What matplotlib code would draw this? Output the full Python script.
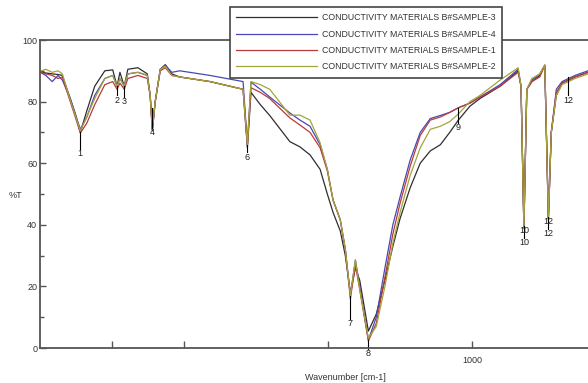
import matplotlib.pyplot as plt
from matplotlib.ticker import FixedLocator, NullFormatter

plt.rcParams['font.family'] = ['Liberation Sans', 'DejaVu Sans']

# wavenumber grid shared by all four spectra
wavenumber = [400, 408, 417, 425, 431, 442, 449, 456, 465, 476, 490, 501, 507, 511, 517,
              522, 536, 549, 553, 556, 560, 567, 574, 583, 594, 636, 682, 688, 693, 706,
              719, 747, 761, 775, 789, 799, 807, 817, 824, 831, 838, 844, 856, 867, 879,
              890, 900, 914, 928, 942, 956, 969, 981, 997, 1011, 1039, 1064, 1068, 1072,
              1076, 1083, 1094, 1101, 1106, 1110, 1117, 1125, 1143, 1161]

t_sample3 = [89.6, 89.3, 89.0, 88.8, 88.5, 81.0, 76.0, 70.0, 77.0, 85.0, 90.0, 90.3, 85.0, 89.5, 85.0,
             90.5, 91.0, 89.0, 82.0, 70.5, 80.0, 90.5, 92.0, 89.0, 88.0, 86.5, 84.0, 65.0, 83.0, 79.0,
             75.5, 67.0, 65.3, 62.7, 58.0, 50.0, 44.0, 38.0, 30.0, 18.0, 26.0, 22.0, 5.5, 11.0, 22.0,
             33.0, 42.0, 52.0, 60.0, 64.0, 66.0, 70.0, 74.0, 78.5, 81.0, 85.0, 90.0, 85.0, 39.0,
             84.0, 86.5, 88.5, 91.8, 42.0, 70.0, 82.0, 86.0, 88.0, 89.5]
t_sample4 = [89.6, 88.5, 86.5, 88.5, 87.0, 81.0, 76.0, 71.0, 75.0, 82.0, 87.5, 88.5, 85.0, 87.5, 85.0,
             89.0, 89.5, 88.5, 82.0, 71.0, 80.0, 90.5, 91.8, 89.5, 90.0, 88.5, 86.5, 66.0, 86.3, 84.0,
             81.5, 76.3, 74.0, 72.0, 66.0, 58.0, 48.0, 41.6, 32.0, 17.0, 28.6, 20.0, 2.6, 10.0, 26.0,
             40.0, 49.0, 61.0, 70.0, 74.5, 75.5, 76.5, 78.0, 79.5, 81.5, 85.5, 90.5, 85.0, 39.0,
             84.0, 87.0, 89.0, 91.8, 42.0, 70.0, 84.0, 86.5, 88.5, 90.0]
t_sample1 = [89.6, 89.0, 88.5, 87.5, 88.0, 80.0, 75.0, 69.8, 73.0, 79.0, 85.5, 86.5, 84.0, 86.0, 84.0,
             87.5, 88.5, 87.5, 82.0, 71.0, 80.0, 90.0, 91.0, 88.5, 88.0, 86.5, 84.0, 66.0, 84.5, 83.0,
             81.0, 74.7, 72.4, 70.0, 65.0, 57.5, 48.0, 41.6, 32.0, 16.0, 27.0, 19.0, 2.3, 8.0, 23.0,
             37.0, 47.0, 59.0, 69.0, 74.0, 75.0, 76.5, 78.0, 79.5, 81.5, 85.0, 89.5, 85.0, 39.0,
             84.0, 86.5, 88.0, 91.8, 42.0, 70.0, 83.0, 86.0, 88.0, 89.5]
t_sample2 = [89.8, 90.5, 89.5, 90.0, 89.0, 80.5, 75.5, 70.5, 75.0, 81.0, 87.5, 88.5, 85.0, 87.5, 85.0,
             89.0, 89.5, 88.5, 82.0, 71.0, 80.0, 90.5, 91.5, 88.5, 88.0, 86.5, 84.0, 66.0, 86.5, 85.5,
             84.0, 75.6, 75.6, 74.0, 66.6, 58.0, 48.0, 41.6, 32.0, 17.0, 28.6, 19.0, 3.2, 7.0, 20.0,
             34.0, 44.0, 56.0, 65.0, 71.0, 72.0, 73.5, 76.0, 80.0, 82.0, 87.0, 91.0, 85.0, 39.0,
             84.0, 87.5, 89.0, 91.8, 42.0, 70.0, 82.0, 85.5, 87.5, 89.0]

series_labels = ['CONDUCTIVITY MATERIALS B#SAMPLE-3', 'CONDUCTIVITY MATERIALS B#SAMPLE-4',
                 'CONDUCTIVITY MATERIALS B#SAMPLE-1', 'CONDUCTIVITY MATERIALS B#SAMPLE-2']
series_colors = ['#2e2e2e', '#4848b4', '#b83a3a', '#a4a43c']

# peak markers: position, curve value where the marker starts, text value
peak_names = ['1', '2', '3', '4', '6', '7', '8', '9', '10', '10', '12', '12', '12']
peak_wn = [456, 507, 517, 556, 688, 831, 856, 981, 1072, 1072, 1106, 1106, 1133]
peak_top = [70, 85, 85, 78, 66, 17, 2.5, 78, 39, 39, 42, 42, 88]
peak_text = [63.0, 80.5, 80.0, 70.0, 62.0, 8.0, -1.8, 71.5, 38.0, 34.2, 41.0, 37.2, 80.5]

fig = plt.figure(figsize=(5.88, 3.83), dpi=100)
ax = fig.add_axes([40 / 588, 1 - 348 / 383, 548 / 588, 308 / 383])

for t, lab, c in zip([t_sample3, t_sample4, t_sample1, t_sample2], series_labels, series_colors):
    ax.plot(wavenumber, t, color=c, lw=0.9, label=lab)

for name, w, top, ty in zip(peak_names, peak_wn, peak_top, peak_text):
    ax.plot([w, w], [top, ty + 1.5], color='black', lw=0.8, clip_on=False)
    ax.text(w, ty, name, ha='center', va='center', fontsize=6.5, color='#222',
            clip_on=False)

ax.set_xlim(400, 1161)
ax.set_ylim(0, 100)

for s in ['top', 'left', 'bottom']:
    ax.spines[s].set_color('#555')
    ax.spines[s].set_linewidth(1.3)
ax.spines['right'].set_visible(False)

ax.yaxis.set_major_locator(FixedLocator([0, 20, 40, 60, 80, 100]))
ax.yaxis.set_minor_locator(FixedLocator([10, 30, 50, 70, 90]))
ax.xaxis.set_major_locator(FixedLocator([500, 600, 800, 1000]))
ax.set_xticklabels(['', '', '', '1000'])
ax.tick_params(axis='both', which='both', direction='in', color='#555', width=1,
               labelsize=6.5, labelcolor='#333')
ax.tick_params(axis='y', which='major', length=4, pad=2)
ax.tick_params(axis='y', which='minor', length=3)
ax.tick_params(axis='x', which='major', length=5, pad=6)
ax.yaxis.set_minor_formatter(NullFormatter())

fig.text(15 / 588, 1 - 196 / 383, '%T', fontsize=6.5, color='#333', ha='center', va='center')
fig.text(345 / 588, 1 - 377 / 383, 'Wavenumber [cm-1]', fontsize=6.5, color='#333',
         ha='center', va='center')

leg = ax.legend(loc='upper left', bbox_to_anchor=(190 / 548, 341 / 308), borderaxespad=0,
                handlelength=9.2, labelspacing=0.85, borderpad=0.7, handletextpad=0.6,
                fancybox=False, framealpha=1, edgecolor='#444',
                prop={'family': ['Liberation Sans', 'DejaVu Sans'], 'size': 6.3})
leg.get_frame().set_linewidth(1.2)
for txt in leg.get_texts():
    txt.set_color('#333')

fig.savefig('out.png', dpi=100)
